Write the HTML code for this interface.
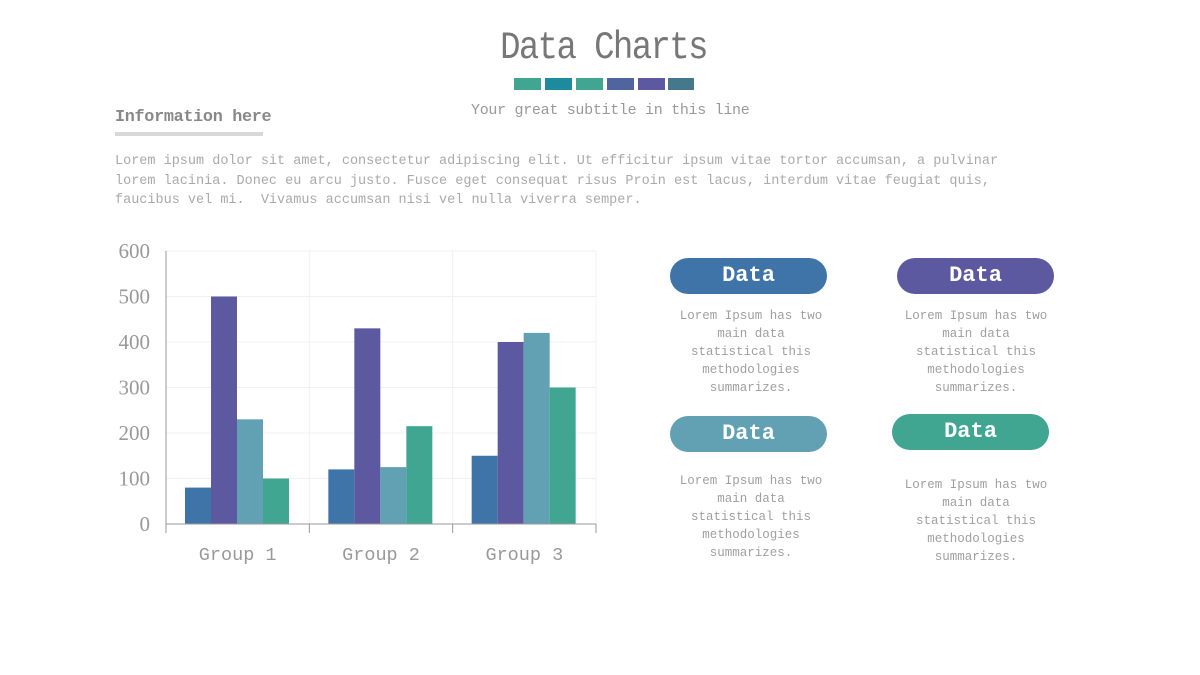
<!DOCTYPE html>
<html><head><meta charset="utf-8">
<style>
body{margin:0;width:1200px;height:675px;background:#fff;position:relative;overflow:hidden;font-family:"Liberation Mono",monospace;}
.abs{position:absolute;white-space:nowrap;}
.pill{position:absolute;width:157px;height:36px;border-radius:18px;color:#fff;font-weight:bold;font-size:22px;text-align:center;line-height:36px;}
.desc{position:absolute;width:200px;text-align:center;font-size:12.5px;line-height:18px;color:#a0a0a0;}
</style></head><body>
<div class="abs" style="left:0;width:1207px;text-align:center;top:30px;font-size:34px;color:#777;letter-spacing:-1.6px;transform:scaleY(1.15);">Data Charts</div>
<div>
<div class="abs" style="left:514px;top:78px;width:27px;height:12px;background:#41a691"></div>
<div class="abs" style="left:545px;top:78px;width:27px;height:12px;background:#1d8a9e"></div>
<div class="abs" style="left:576px;top:78px;width:27px;height:12px;background:#41a691"></div>
<div class="abs" style="left:607px;top:78px;width:27px;height:12px;background:#50649f"></div>
<div class="abs" style="left:638px;top:78px;width:27px;height:12px;background:#5c59a0"></div>
<div class="abs" style="left:668px;top:78px;width:26px;height:12px;background:#45788a"></div>
</div>
<div class="abs" style="left:471px;top:102px;font-size:15px;letter-spacing:-0.3px;color:#999;">Your great subtitle in this line</div>
<div class="abs" style="left:115px;top:108px;font-size:16.8px;font-weight:bold;color:#888;letter-spacing:-0.3px;">Information here</div>
<div class="abs" style="left:115px;top:132px;width:148px;height:4px;background:#d8d8d8"></div>
<div class="abs" style="left:115px;top:152px;font-size:13.5px;line-height:19.5px;color:#aaa;">Lorem ipsum dolor sit amet, consectetur adipiscing elit. Ut efficitur ipsum vitae tortor accumsan, a pulvinar<br>lorem lacinia. Donec eu arcu justo. Fusce eget consequat risus Proin est lacus, interdum vitae feugiat quis,<br>faucibus vel mi.&nbsp; Vivamus accumsan nisi vel nulla viverra semper.</div>

<svg id="chart" width="1200" height="675" style="position:absolute;left:0;top:0" xmlns="http://www.w3.org/2000/svg"></svg>

<div class="pill" style="left:670px;top:258px;background:#3f74a8">Data</div>
<div class="desc" style="left:651px;top:307px;">Lorem Ipsum has two<br>main data<br>statistical this<br>methodologies<br>summarizes.</div>
<div class="pill" style="left:897px;top:258px;background:#5c59a0">Data</div>
<div class="desc" style="left:876px;top:307px;">Lorem Ipsum has two<br>main data<br>statistical this<br>methodologies<br>summarizes.</div>
<div class="pill" style="left:670px;top:416px;background:#62a0b3">Data</div>
<div class="desc" style="left:651px;top:472px;">Lorem Ipsum has two<br>main data<br>statistical this<br>methodologies<br>summarizes.</div>
<div class="pill" style="left:892px;top:414px;background:#41a691">Data</div>
<div class="desc" style="left:876px;top:476px;">Lorem Ipsum has two<br>main data<br>statistical this<br>methodologies<br>summarizes.</div>

<script>
const categories = ["Group 1","Group 2","Group 3"];
const series1 = [80,120,150];
const series2 = [500,430,400];
const series3 = [230,125,420];
const series4 = [100,215,300];
const yTicks = [0,100,200,300,400,500,600];
const colors = ["#3f74a8","#5c59a0","#62a0b3","#41a691"];
const NS="http://www.w3.org/2000/svg";
const svg=document.getElementById('chart');
const X0=166,X1=596,Y0=524,Y1=251,YMAX=600;
const gw=(X1-X0)/categories.length;
const y=v=>Y0-(v/YMAX)*(Y0-Y1);
const xg=i=>X0+i*gw;
function mk(t,a){const e=document.createElementNS(NS,t);for(const k in a)e.setAttribute(k,a[k]);svg.appendChild(e);return e;}
yTicks.forEach(t=>{
  if(t>0){const l=mk('line',{x1:X0,x2:X1,y1:y(t),y2:y(t),stroke:'#f0f0f0','stroke-width':1});
  
  }
  const tx=mk('text',{x:150,y:y(t)+7,'text-anchor':'end','font-size':21,fill:'#999','font-family':'Liberation Serif, serif'});
  tx.textContent=t;
  
  
});
for(let i=1;i<=categories.length;i++){
  const l=mk('line',{x1:xg(i),x2:xg(i),y1:Y1,y2:Y0,stroke:'#f0f0f0','stroke-width':1});
  
  
}
const all=[series1,series2,series3,series4];
const bw=26;
categories.forEach((c,i)=>{
  all.forEach((s,j)=>{
    const r=mk('rect',{x:xg(i)+19+j*bw,y:y(s[i]),width:bw,height:Y0-y(s[i]),fill:colors[j]});
    
    
  });
  const tx=mk('text',{x:xg(i)+gw/2,y:560,'text-anchor':'middle','font-size':18.5,fill:'#999','font-family':'Liberation Mono, monospace'});
  tx.textContent=c;
  
  
});
const ya=mk('line',{x1:X0,x2:X0,y1:Y1,y2:Y0,stroke:'#999','stroke-width':1});


const xa=mk('line',{x1:X0,x2:X1,y1:Y0,y2:Y0,stroke:'#999','stroke-width':1});


for(let i=0;i<=categories.length;i++){
  const l=mk('line',{x1:xg(i),x2:xg(i),y1:Y0,y2:Y0+9,stroke:'#999','stroke-width':1});
  
  
}
</script>
</body></html>
